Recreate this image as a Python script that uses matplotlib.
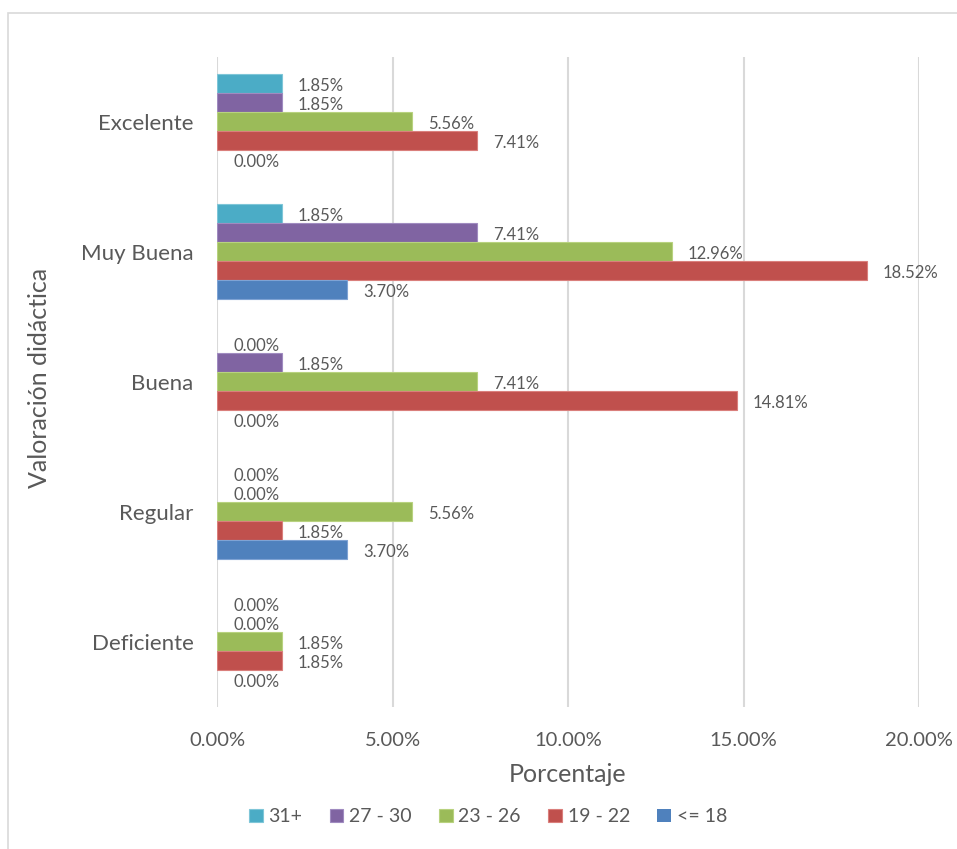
import numpy as np
import matplotlib
matplotlib.use('Agg')
import matplotlib.pyplot as plt
from matplotlib.patches import Rectangle

plt.rcParams['font.family'] = ['Lato', 'DejaVu Sans']

# Datos
categorias = ['Excelente', 'Muy Buena', 'Buena', 'Regular', 'Deficiente']
series = ['31+', '27 - 30', '23 - 26', '19 - 22', '<= 18']
edad_31 = [1.85, 1.85, 0.00, 0.00, 0.00]
edad_27_30 = [1.85, 7.41, 1.85, 0.00, 0.00]
edad_23_26 = [5.56, 12.96, 7.41, 5.56, 1.85]
edad_19_22 = [7.41, 18.52, 14.81, 1.85, 1.85]
edad_18 = [0.00, 3.70, 0.00, 3.70, 0.00]
valores = [edad_31, edad_27_30, edad_23_26, edad_19_22, edad_18]
colores = ['#4BACC6', '#8064A2', '#9BBB59', '#C0504D', '#4F81BD']
bordes = ['#7FC6D8', '#A08BC0', '#B8D27F', '#DA7F7C', '#7FA3D4']

texto = '#595959'

fig = plt.figure(figsize=(9.57, 8.49), dpi=100)
ax = fig.add_axes([0.2268, 0.1673, 0.7335, 0.7656])

# Marco del gráfico
fig.patches.append(Rectangle((8 / 957, -0.05), 1.1, 1 - 13 / 849 + 0.05, transform=fig.transFigure,
                             fill=False, edgecolor='#d9d9d9', linewidth=1.2))

y = np.arange(len(categorias))
h = 19 / 130
for k, (nombre, vals) in enumerate(zip(series, valores)):
    pos = y + (k - 2) * h
    anchos = [0.8 if v > 0 else 0 for v in vals]
    ax.barh(pos, vals, height=h, color=colores[k], edgecolor=bordes[k], linewidth=anchos,
            label=nombre, zorder=3)
    for yy, v in zip(pos, vals):
        ax.annotate(f'{v:.2f}%', (v, yy), xytext=(11.5, -1.5), textcoords='offset points',
                    va='center', ha='left', fontsize=12, color=texto)

ax.set_xlim(0, 20)
ax.set_ylim(4.5, -0.5)
ax.set_xticks([0, 5, 10, 15, 20])
ax.set_xticklabels(['0.00%', '5.00%', '10.00%', '15.00%', '20.00%'])
ax.set_yticks(y)
ax.set_yticklabels(categorias)
ax.tick_params(axis='x', length=0, pad=18, labelsize=14.5, labelcolor=texto)
ax.tick_params(axis='y', length=0, pad=17, labelsize=16, labelcolor=texto)
ax.grid(axis='x', color='#d9d9d9', linewidth=1.5, zorder=0)
for s in ax.spines.values():
    s.set_visible(False)

ax.set_xlabel('Porcentaje', fontsize=18, color=texto, labelpad=10)
fig.text(40 / 957, 1 - 378 / 849, 'Valoración didáctica', rotation=90, ha='center', va='center',
         fontsize=18, color=texto)

leg = ax.legend(loc='center', bbox_to_anchor=(0.51, 0.038), bbox_transform=fig.transFigure, ncol=5,
                frameon=False, fontsize=14, handlelength=0.7, handleheight=0.7, handletextpad=0.3,
                columnspacing=1.4, labelcolor=texto)

fig.savefig('out.png', dpi=100, facecolor='white')
